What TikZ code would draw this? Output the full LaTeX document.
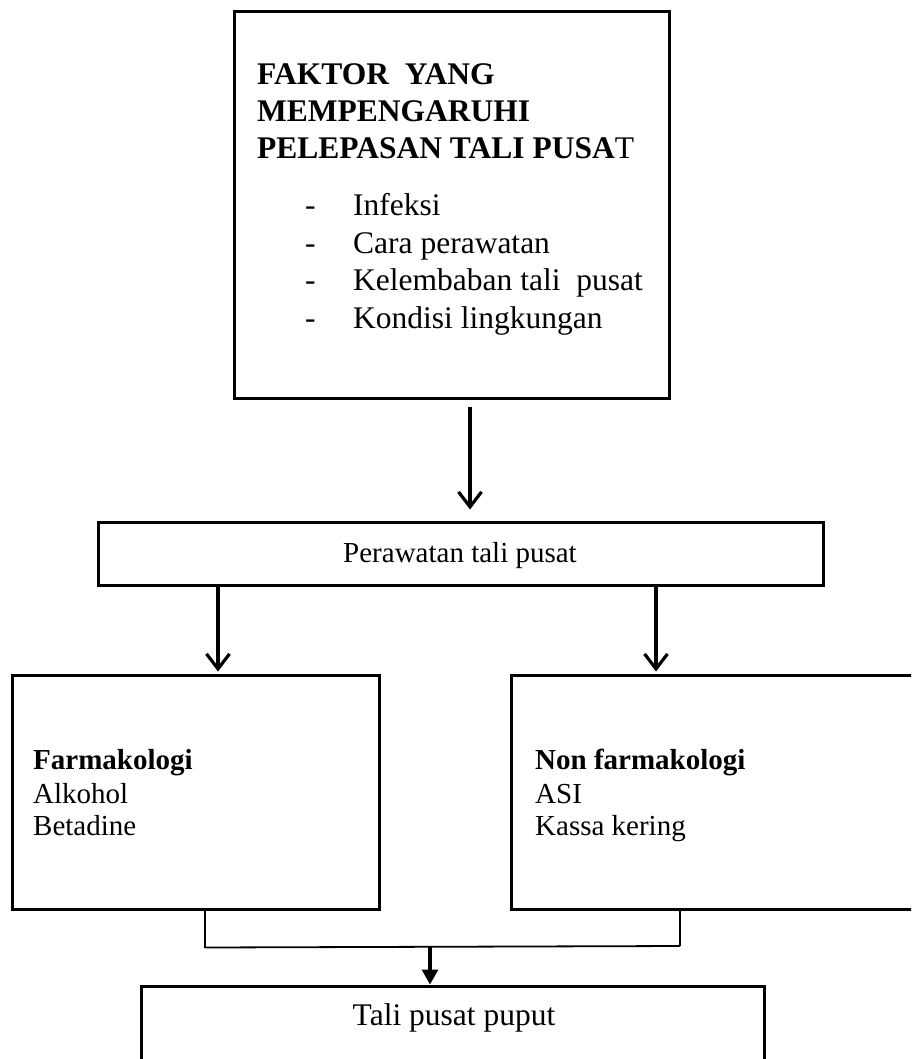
\documentclass[tikz,border=0pt]{standalone}
\usepackage{fontspec}
\setmainfont{Liberation Serif}
\usetikzlibrary{arrows.meta}
\tikzset{
  box/.style={draw, line width=3pt, rectangle, inner sep=0pt},
  txt/.style={inner sep=0pt, anchor=base west},
  ctxt/.style={inner sep=0pt, anchor=base},
  big/.style={font=\fontsize{31.5}{37}\selectfont},
  mid/.style={font=\fontsize{29}{33}\selectfont},
  arr/.style={line width=3.2pt, -{Straight Barb[length=15pt,width=23pt,line width=3.2pt]}},
  arrf/.style={line width=3.2pt, -{Triangle[length=15pt,width=16pt]}},
  joinline/.style={line width=2.6pt},
}
\begin{document}
\begin{tikzpicture}[x=1pt,y=-1pt]
\useasboundingbox (0,0) rectangle (911,1059);
\clip (0,0) rectangle (911,1059);
% boxes
\node[box, minimum width=435pt, minimum height=386pt] (top) at (451.5,205) {};
\node[box, minimum width=725pt, minimum height=63pt] (per) at (460.5,553.5) {};
\node[box, minimum width=367pt, minimum height=234pt] (farm) at (195.5,792) {};
\node[box, minimum width=420pt, minimum height=234pt] (nonf) at (721,792) {};
\node[box, minimum width=623pt, minimum height=120pt] (puput) at (452.5,1046) {};
% top box text
\node[txt, big] (h1) at (257,85) {\bfseries FAKTOR\ \ YANG};
\node[txt, big] (h2) at (257,122) {\bfseries MEMPENGARUHI};
\node[txt, big] (h3) at (257,159) {{\bfseries PELEPASAN TALI PUSA}T};
\node[txt, big] (d1) at (305,216) {-};
\node[txt, big] (d2) at (305,253) {-};
\node[txt, big] (d3) at (305,290) {-};
\node[txt, big] (d4) at (305,328) {-};
\node[txt, big] (i1) at (353,216) {Infeksi};
\node[txt, big] (i2) at (353,253) {Cara perawatan};
\node[txt, big] (i3) at (353,290) {Kelembaban tali\ \ pusat};
\node[txt, big] (i4) at (353,328) {Kondisi lingkungan};
% middle box text
\node[ctxt, mid] (pt) at (460,562) {Perawatan tali pusat};
% left / right box text
\node[txt, mid] (f1) at (33,769) {\bfseries Farmakologi};
\node[txt, mid] (f2) at (33,803) {Alkohol};
\node[txt, mid] (f3) at (33,835) {Betadine};
\node[txt, mid] (n1) at (535,769) {\bfseries Non farmakologi};
\node[txt, mid] (n2) at (535,803) {ASI};
\node[txt, mid] (n3) at (535,835) {Kassa kering};
% bottom text
\node[ctxt, big] (bt) at (454,1025) {Tali pusat puput};
% connectors
\draw[arr, shorten <=7pt, shorten >=11pt] ([xshift=18.5pt]top.south) -- ([xshift=18.5pt]top.south |- per.north);
\draw[arr, shorten >=2pt] ([xshift=-242.5pt]per.south) -- ([xshift=-242.5pt]per.south |- farm.north);
\draw[arr, shorten >=2pt] ([xshift=195.5pt]per.south) -- ([xshift=195.5pt]per.south |- nonf.north);
\coordinate (jl) at ([xshift=9.5pt,yshift=-37pt]farm.south);
\coordinate (jr) at (680,946);
\draw[joinline] ([xshift=9.5pt]farm.south) -- (jl);
\draw[joinline] (jr |- nonf.south) -- (jr);
\draw[line width=1.8pt] (jl) -- (jr);
\coordinate (jm) at (430,946);
\draw[arrf] (jm) -- (jm |- puput.north);
\end{tikzpicture}
\end{document}
